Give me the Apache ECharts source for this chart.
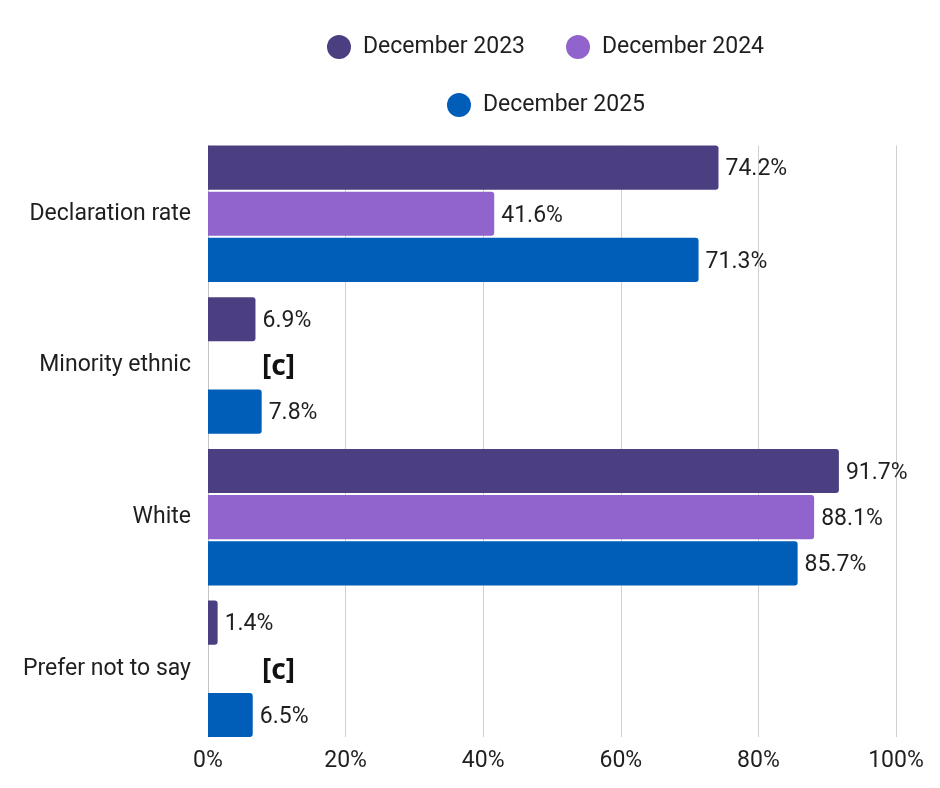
<!DOCTYPE html>
<html><head><meta charset="utf-8">
<script src="https://cdn.jsdelivr.net/npm/echarts@6/dist/echarts.min.js"></script>
<style>html,body{margin:0;padding:0;background:#fff}#c{width:940px;height:788px}</style>
</head><body><div id="c"></div>
<script>
const categories = ['Declaration rate', 'Minority ethnic', 'White', 'Prefer not to say'];
const seriesNames = ['December 2023', 'December 2024', 'December 2025'];
const values2023 = [74.2, 6.9, 91.7, 1.4];
const values2024 = [41.6, null, 88.1, null]; // null = suppressed [c]
const values2025 = [71.3, 7.8, 85.7, 6.5];
const xTicks = [0, 20, 40, 60, 80, 100];
const suppressedLabel = '[c]';
const colors = ['#4b3f82', '#9163cc', '#005eb8'];

const chart = echarts.init(document.getElementById('c'), null, {renderer: 'canvas'});
const font = 'Roboto, "Noto Sans", sans-serif';
const txt = '#1f1f1f';

function toData(arr) {
  return arr.map(v => v === null ? {
    value: 0,
    itemStyle: {color: 'rgba(0,0,0,0)'},
    label: {
      show: true,
      formatter: suppressedLabel,
      fontFamily: '"Noto Sans", "DejaVu Sans", sans-serif',
      fontWeight: 'bold',
      fontSize: 28,
      color: '#111',
      distance: 54,
      offset: [0, 2]
    }
  } : v);
}

const allValues = [values2023, values2024, values2025];
const series = allValues.map((vals, i) => ({
  name: seriesNames[i],
  type: 'bar',
  xAxisIndex: 0,
  yAxisIndex: 0,
  data: toData(vals),
  barCategoryGap: '10%',
  barGap: '4.5%',
  itemStyle: {color: colors[i], borderRadius: [0, 3, 3, 0]},
  label: {
    show: true,
    position: 'right',
    distance: 7,
    offset: [0, 2],
    formatter: p => (p.data && p.data.label) ? suppressedLabel : p.value.toFixed(1) + '%',
    fontFamily: font,
    fontSize: 23,
    color: txt
  }
}));

const legendText = {fontFamily: font, fontSize: 23, color: txt, padding: [0, 0, 0, 7]};

chart.setOption({
  animation: false,
  color: colors,
  legend: [
    {
      data: [seriesNames[0], seriesNames[1]],
      left: 322, top: 30,
      icon: 'circle', itemWidth: 24, itemHeight: 24, itemGap: 41,
      textStyle: legendText
    },
    {
      data: [seriesNames[2]],
      left: 442, top: 88,
      icon: 'circle', itemWidth: 24, itemHeight: 24,
      textStyle: legendText
    }
  ],
  grid: [
    {left: 208, right: 44, top: 137.9, bottom: 43.3, containLabel: false},
    {left: 208, right: 44, top: 145.5, bottom: 51, containLabel: false}
  ],
  xAxis: [
    {
      type: 'value', gridIndex: 0,
      min: xTicks[0], max: xTicks[xTicks.length - 1], interval: 20,
      axisLabel: {show: false}, axisLine: {show: false}, axisTick: {show: false},
      splitLine: {show: false}
    },
    {
      type: 'value', gridIndex: 1,
      min: xTicks[0], max: xTicks[xTicks.length - 1], interval: 20,
      axisLabel: {formatter: '{value}%', fontFamily: font, fontSize: 23, color: txt, margin: 13},
      axisLine: {show: false}, axisTick: {show: false},
      splitLine: {show: true, lineStyle: {color: '#d0d0d0', width: 1}}
    }
  ],
  yAxis: [
    {
      type: 'category', gridIndex: 0,
      data: categories,
      inverse: true,
      axisLabel: {fontFamily: font, fontSize: 23, color: txt, margin: 17, padding: [5, 0, 0, 0]},
      axisLine: {show: false}, axisTick: {show: false}, splitLine: {show: false}
    },
    {
      type: 'value', gridIndex: 1, min: 0, max: 1,
      axisLabel: {show: false}, axisTick: {show: false}, splitLine: {show: false},
      axisLine: {show: true, lineStyle: {color: '#c4c4c4', width: 1}}
    }
  ],
  series: series
});
</script>
</body></html>
